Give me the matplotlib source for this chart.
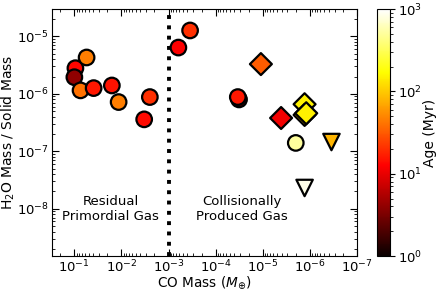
import numpy as np
import matplotlib
matplotlib.use("Agg")
from matplotlib import pyplot as plt
from matplotlib.colors import LogNorm

# circles
circ_co  = [0.095, 0.10, 0.055, 0.074, 0.039, 0.016, 0.0115, 0.0033, 0.0025, 3.5e-4, 6.2e-4, 3.2e-5, 3.4e-5, 2.0e-6]
circ_h2o = [2.8e-6, 1.95e-6, 4.3e-6, 1.15e-6, 1.26e-6, 1.4e-6, 7.2e-7, 3.6e-7, 8.8e-7, 1.27e-5, 6.4e-6, 8.0e-7, 8.8e-7, 1.4e-7]
circ_age = [13, 4, 45, 40, 16, 15, 45, 14, 20, 20, 12, 2, 16, 500]

# diamonds
diam_co  = [1.1e-5, 4.1e-6, 1.3e-6, 1.3e-6, 1.2e-6]
diam_h2o = [3.3e-6, 3.8e-7, 6.6e-7, 4.3e-7, 4.6e-7]
diam_age = [32, 11, 150, 90, 150]

# upper limits (triangles)
tri_co  = [3.5e-7, 1.3e-6]
tri_h2o = [1.45e-7, 2.3e-8]
tri_age = [80, 850]

norm = LogNorm(vmin=1, vmax=1000)
cmap = 'hot'

fig = plt.figure(figsize=(4.36, 2.91), dpi=100)
ax = fig.add_axes([0.119, 0.12, 0.70, 0.849])
cax = fig.add_axes([0.865, 0.12, 0.030, 0.849])

sc = ax.scatter(circ_co, circ_h2o, c=circ_age, cmap=cmap, norm=norm, marker='o',
                s=125, edgecolors='k', linewidths=1.6, zorder=3)
ax.scatter(diam_co, diam_h2o, c=diam_age, cmap=cmap, norm=norm, marker='D',
           s=125, edgecolors='k', linewidths=1.6, zorder=3)
ax.scatter(tri_co, tri_h2o, c=tri_age, cmap=cmap, norm=norm, marker='v',
           s=140, edgecolors='k', linewidths=1.6, zorder=3)

ax.axvline(1e-3, color='k', ls=':', lw=2.8, zorder=2)

ax.set_xscale('log')
ax.set_yscale('log')
ax.set_xlim(0.3, 1e-7)
ax.set_ylim(1.5e-9, 3e-5)
ax.set_xticks([1e-1, 1e-2, 1e-3, 1e-4, 1e-5, 1e-6, 1e-7])
ax.set_yticks([1e-8, 1e-7, 1e-6, 1e-5])
ax.tick_params(which='both', direction='in', top=True, right=True, labelsize=9.5, pad=2)
ax.tick_params(which='major', length=5)
ax.tick_params(which='minor', length=2.5)

ax.set_xlabel(r'CO Mass ($M_{\oplus}$)', fontsize=9.8, labelpad=-0.5)
ax.set_ylabel(r'H$_2$O Mass / Solid Mass', fontsize=10, labelpad=0)

ax.text(0.017, 1.0e-8, 'Residual\nPrimordial Gas', ha='center', va='center', fontsize=9.5)
ax.text(2.8e-5, 1.0e-8, 'Collisionally\nProduced Gas', ha='center', va='center', fontsize=9.5)

cb = fig.colorbar(sc, cax=cax)
cb.set_label('Age (Myr)', fontsize=10, labelpad=1)
cb.ax.tick_params(labelsize=9.5, pad=2)

plt.savefig('out.png', dpi=100)
